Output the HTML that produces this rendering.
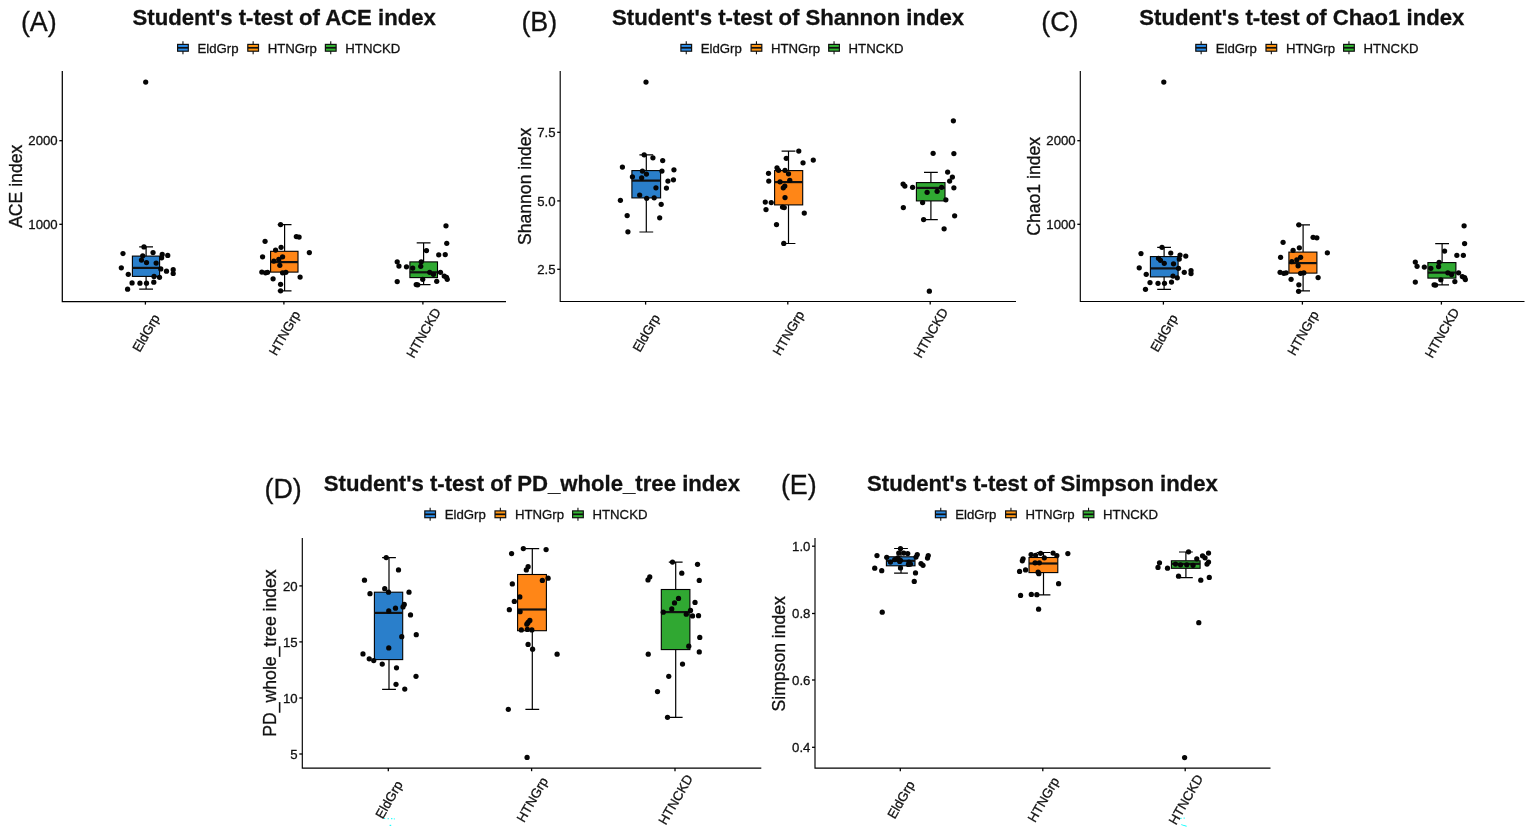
<!DOCTYPE html>
<html lang="en">
<head>
<meta charset="utf-8">
<title>Alpha diversity indices - Student's t-test</title>
<style>
html,body{margin:0;padding:0;background:#fff;}
body{width:1535px;height:834px;overflow:hidden;}
svg{display:block;font-family:"Liberation Sans",sans-serif;fill:#111;}
text{stroke:#111;stroke-width:0.3px;}
</style>
</head>
<body>
<svg width="1535" height="834" viewBox="0 0 1535 834">
<rect width="1535" height="834" fill="#fff"/>
<!-- panel A -->
<text x="20.9" y="31.2" font-size="26.9">(A)</text>
<text x="132.5" y="25" font-size="22.15" font-weight="bold" stroke-width="0.15">Student's t-test of ACE index</text>
<line x1="182.95" y1="41.3" x2="182.95" y2="54.3" stroke="#111" stroke-width="1.1"/>
<rect x="177.6" y="44.4" width="10.7" height="6.8" fill="#2b8be6" stroke="#111" stroke-width="1.2"/>
<line x1="177.6" y1="47.8" x2="188.3" y2="47.8" stroke="#111" stroke-width="1.7"/>
<text x="197.5" y="52.5" font-size="13.2">EldGrp</text>
<line x1="253.15" y1="41.3" x2="253.15" y2="54.3" stroke="#111" stroke-width="1.1"/>
<rect x="247.8" y="44.4" width="10.7" height="6.8" fill="#ff9612" stroke="#111" stroke-width="1.2"/>
<line x1="247.8" y1="47.8" x2="258.5" y2="47.8" stroke="#111" stroke-width="1.7"/>
<text x="267.7" y="52.5" font-size="13.2">HTNGrp</text>
<line x1="330.75" y1="41.3" x2="330.75" y2="54.3" stroke="#111" stroke-width="1.1"/>
<rect x="325.4" y="44.4" width="10.7" height="6.8" fill="#33b533" stroke="#111" stroke-width="1.2"/>
<line x1="325.4" y1="47.8" x2="336.1" y2="47.8" stroke="#111" stroke-width="1.7"/>
<text x="345.3" y="52.5" font-size="13.2">HTNCKD</text>
<path d="M62.3 71V301.5H506" fill="none" stroke="#000" stroke-width="1.25"/>
<text transform="translate(22 186.3) rotate(-90)" text-anchor="middle" font-size="17.6">ACE index</text>
<line x1="59.3" y1="140.7" x2="62.3" y2="140.7" stroke="#000" stroke-width="1.3"/>
<text x="57.7" y="145.4" text-anchor="end" font-size="13.2">2000</text>
<line x1="59.3" y1="224.3" x2="62.3" y2="224.3" stroke="#000" stroke-width="1.3"/>
<text x="57.7" y="229" text-anchor="end" font-size="13.2">1000</text>
<line x1="145.4" y1="301.5" x2="145.4" y2="304.6" stroke="#000" stroke-width="1.3"/>
<text transform="translate(146 333) rotate(-60)" text-anchor="middle" dy="4.6" font-size="13.2">EldGrp</text>
<line x1="283.9" y1="301.5" x2="283.9" y2="304.6" stroke="#000" stroke-width="1.3"/>
<text transform="translate(284.5 333) rotate(-60)" text-anchor="middle" dy="4.6" font-size="13.2">HTNGrp</text>
<line x1="422.9" y1="301.5" x2="422.9" y2="304.6" stroke="#000" stroke-width="1.3"/>
<text transform="translate(423.5 333) rotate(-60)" text-anchor="middle" dy="4.6" font-size="13.2">HTNCKD</text>
<g transform="translate(0.4 0.3)">
<path d="M145.7 246.6V255.8M145.7 276.1V288.8M138.8 246.6H152.6M138.8 288.8H152.6" fill="none" stroke="#000" stroke-width="1.2"/>
<rect x="132" y="255.8" width="27.2" height="20.3" fill="#2a7fcb" stroke="#000" stroke-width="1.1"/>
<line x1="132" y1="267.6" x2="159.2" y2="267.6" stroke="#111" stroke-width="2.2"/>
<path d="M284.2 224.3V251M284.2 271.8V290.6M277.3 224.3H291.1M277.3 290.6H291.1" fill="none" stroke="#000" stroke-width="1.2"/>
<rect x="270.2" y="251" width="27.4" height="20.8" fill="#ff8617" stroke="#000" stroke-width="1.1"/>
<line x1="270.2" y1="261.8" x2="297.6" y2="261.8" stroke="#111" stroke-width="2.2"/>
<path d="M423.2 242.6V261.6M423.2 277.3V284.3M416.3 242.6H430.1M416.3 284.3H430.1" fill="none" stroke="#000" stroke-width="1.2"/>
<rect x="409.5" y="261.6" width="27.6" height="15.7" fill="#30a832" stroke="#000" stroke-width="1.1"/>
<line x1="409.5" y1="272" x2="437.1" y2="272" stroke="#111" stroke-width="2.2"/>
<g fill="#050505"><circle cx="145.3" cy="81.8" r="2.62"/><circle cx="143.59" cy="246.59" r="2.62"/><circle cx="122.59" cy="253.22" r="2.62"/><circle cx="152.65" cy="252.21" r="2.62"/><circle cx="161.81" cy="254.14" r="2.62"/><circle cx="167.35" cy="255.15" r="2.62"/><circle cx="161.22" cy="257.5" r="2.62"/><circle cx="142.33" cy="255.57" r="2.62"/><circle cx="141.07" cy="259.77" r="2.62"/><circle cx="146.1" cy="262.29" r="2.62"/><circle cx="155.76" cy="262.71" r="2.62"/><circle cx="120.92" cy="267.49" r="2.62"/><circle cx="160.38" cy="268.59" r="2.62"/><circle cx="166.09" cy="270.94" r="2.62"/><circle cx="172.8" cy="269.42" r="2.62"/><circle cx="172.8" cy="273.2" r="2.62"/><circle cx="127.88" cy="274.04" r="2.62"/><circle cx="153.66" cy="276.14" r="2.62"/><circle cx="159.12" cy="276.98" r="2.62"/><circle cx="131.66" cy="282.69" r="2.62"/><circle cx="139.55" cy="282.86" r="2.62"/><circle cx="146.1" cy="282.86" r="2.62"/><circle cx="153.41" cy="281.85" r="2.62"/><circle cx="127.21" cy="288.9" r="2.62"/><circle cx="280.18" cy="224.27" r="2.62"/><circle cx="295.94" cy="236.27" r="2.62"/><circle cx="298.69" cy="236.77" r="2.62"/><circle cx="264.67" cy="241.03" r="2.62"/><circle cx="280.68" cy="247.03" r="2.62"/><circle cx="275.18" cy="249.78" r="2.62"/><circle cx="308.95" cy="252.28" r="2.62"/><circle cx="262.17" cy="256.54" r="2.62"/><circle cx="282.18" cy="256.54" r="2.62"/><circle cx="278.43" cy="259.04" r="2.62"/><circle cx="273.43" cy="260.79" r="2.62"/><circle cx="279.43" cy="265.04" r="2.62"/><circle cx="261.42" cy="271.8" r="2.62"/><circle cx="265.17" cy="272.55" r="2.62"/><circle cx="267.17" cy="272.05" r="2.62"/><circle cx="282.18" cy="272.55" r="2.62"/><circle cx="285.44" cy="272.05" r="2.62"/><circle cx="299.7" cy="276.8" r="2.62"/><circle cx="272.68" cy="278.55" r="2.62"/><circle cx="280.18" cy="284.05" r="2.62"/><circle cx="280.18" cy="290.56" r="2.62"/><circle cx="445.59" cy="225.52" r="2.62"/><circle cx="446.35" cy="243.03" r="2.62"/><circle cx="426.08" cy="250.28" r="2.62"/><circle cx="438.34" cy="254.54" r="2.62"/><circle cx="444.84" cy="254.29" r="2.62"/><circle cx="396.81" cy="261.54" r="2.62"/><circle cx="398.56" cy="265.79" r="2.62"/><circle cx="406.07" cy="266.54" r="2.62"/><circle cx="412.32" cy="267.79" r="2.62"/><circle cx="420.83" cy="261.54" r="2.62"/><circle cx="420.33" cy="266.04" r="2.62"/><circle cx="429.33" cy="272.05" r="2.62"/><circle cx="433.09" cy="274.05" r="2.62"/><circle cx="440.09" cy="272.05" r="2.62"/><circle cx="443.84" cy="275.8" r="2.62"/><circle cx="446.85" cy="279.05" r="2.62"/><circle cx="422.33" cy="279.05" r="2.62"/><circle cx="436.34" cy="281.05" r="2.62"/><circle cx="396.81" cy="281.3" r="2.62"/><circle cx="415.83" cy="284.3" r="2.62"/><circle cx="417.33" cy="284.56" r="2.62"/><circle cx="446.1" cy="277.05" r="2.62"/></g>
</g>
<!-- panel B -->
<text x="521.4" y="31.2" font-size="26.9">(B)</text>
<text x="612" y="25" font-size="22.15" font-weight="bold" stroke-width="0.15">Student's t-test of Shannon index</text>
<line x1="686.25" y1="41.3" x2="686.25" y2="54.3" stroke="#111" stroke-width="1.1"/>
<rect x="680.9" y="44.4" width="10.7" height="6.8" fill="#2b8be6" stroke="#111" stroke-width="1.2"/>
<line x1="680.9" y1="47.8" x2="691.6" y2="47.8" stroke="#111" stroke-width="1.7"/>
<text x="700.8" y="52.5" font-size="13.2">EldGrp</text>
<line x1="756.45" y1="41.3" x2="756.45" y2="54.3" stroke="#111" stroke-width="1.1"/>
<rect x="751.1" y="44.4" width="10.7" height="6.8" fill="#ff9612" stroke="#111" stroke-width="1.2"/>
<line x1="751.1" y1="47.8" x2="761.8" y2="47.8" stroke="#111" stroke-width="1.7"/>
<text x="771" y="52.5" font-size="13.2">HTNGrp</text>
<line x1="834.05" y1="41.3" x2="834.05" y2="54.3" stroke="#111" stroke-width="1.1"/>
<rect x="828.7" y="44.4" width="10.7" height="6.8" fill="#33b533" stroke="#111" stroke-width="1.2"/>
<line x1="828.7" y1="47.8" x2="839.4" y2="47.8" stroke="#111" stroke-width="1.7"/>
<text x="848.6" y="52.5" font-size="13.2">HTNCKD</text>
<path d="M560.2 71V301.5H1016" fill="none" stroke="#000" stroke-width="1.15"/>
<text transform="translate(530.5 186.3) rotate(-90)" text-anchor="middle" font-size="17.6">Shannon index</text>
<line x1="557.2" y1="132.3" x2="560.2" y2="132.3" stroke="#000" stroke-width="1.3"/>
<text x="555.6" y="137" text-anchor="end" font-size="13.2">7.5</text>
<line x1="557.2" y1="200.9" x2="560.2" y2="200.9" stroke="#000" stroke-width="1.3"/>
<text x="555.6" y="205.6" text-anchor="end" font-size="13.2">5.0</text>
<line x1="557.2" y1="269.3" x2="560.2" y2="269.3" stroke="#000" stroke-width="1.3"/>
<text x="555.6" y="274" text-anchor="end" font-size="13.2">2.5</text>
<line x1="645.6" y1="301.5" x2="645.6" y2="304.6" stroke="#000" stroke-width="1.3"/>
<text transform="translate(646.2 333) rotate(-60)" text-anchor="middle" dy="4.6" font-size="13.2">EldGrp</text>
<line x1="787.8" y1="301.5" x2="787.8" y2="304.6" stroke="#000" stroke-width="1.3"/>
<text transform="translate(788.4 333) rotate(-60)" text-anchor="middle" dy="4.6" font-size="13.2">HTNGrp</text>
<line x1="930.2" y1="301.5" x2="930.2" y2="304.6" stroke="#000" stroke-width="1.3"/>
<text transform="translate(930.8 333) rotate(-60)" text-anchor="middle" dy="4.6" font-size="13.2">HTNCKD</text>
<g transform="translate(0.4 0.3)">
<path d="M645.9 154.5V170.3M645.9 197.6V231.7M639 154.5H652.8M639 231.7H652.8" fill="none" stroke="#000" stroke-width="1.2"/>
<rect x="631.5" y="170.3" width="28.7" height="27.3" fill="#2a7fcb" stroke="#000" stroke-width="1.1"/>
<line x1="631.5" y1="180.3" x2="660.2" y2="180.3" stroke="#111" stroke-width="2.2"/>
<path d="M788.1 150.8V170.3M788.1 204.6V243.2M781.2 150.8H795M781.2 243.2H795" fill="none" stroke="#000" stroke-width="1.2"/>
<rect x="774.2" y="170.3" width="28.1" height="34.3" fill="#ff8617" stroke="#000" stroke-width="1.1"/>
<line x1="774.2" y1="181.8" x2="802.3" y2="181.8" stroke="#111" stroke-width="2.2"/>
<path d="M930.5 172V182.3M930.5 200.6V219.4M923.6 172H937.4M923.6 219.4H937.4" fill="none" stroke="#000" stroke-width="1.2"/>
<rect x="916" y="182.3" width="28.6" height="18.3" fill="#30a832" stroke="#000" stroke-width="1.1"/>
<line x1="916" y1="187.6" x2="944.6" y2="187.6" stroke="#111" stroke-width="2.2"/>
<g fill="#050505"><circle cx="645.6" cy="81.8" r="2.62"/><circle cx="622.01" cy="166.78" r="2.62"/><circle cx="620.01" cy="200.05" r="2.62"/><circle cx="626.77" cy="215.31" r="2.62"/><circle cx="627.52" cy="231.57" r="2.62"/><circle cx="643.78" cy="154.52" r="2.62"/><circle cx="652.53" cy="157.52" r="2.62"/><circle cx="662.29" cy="160.28" r="2.62"/><circle cx="673.55" cy="169.53" r="2.62"/><circle cx="673.05" cy="179.54" r="2.62"/><circle cx="667.54" cy="180.79" r="2.62"/><circle cx="666.04" cy="187.79" r="2.62"/><circle cx="661.54" cy="170.78" r="2.62"/><circle cx="642.03" cy="170.78" r="2.62"/><circle cx="646.03" cy="173.79" r="2.62"/><circle cx="632.02" cy="176.54" r="2.62"/><circle cx="641.28" cy="177.54" r="2.62"/><circle cx="655.54" cy="187.54" r="2.62"/><circle cx="639.28" cy="194.8" r="2.62"/><circle cx="646.28" cy="198.05" r="2.62"/><circle cx="653.79" cy="197.55" r="2.62"/><circle cx="660.79" cy="204.05" r="2.62"/><circle cx="659.29" cy="217.56" r="2.62"/><circle cx="798.38" cy="150.77" r="2.62"/><circle cx="812.89" cy="159.78" r="2.62"/><circle cx="785.87" cy="158.02" r="2.62"/><circle cx="802.63" cy="162.53" r="2.62"/><circle cx="776.61" cy="167.53" r="2.62"/><circle cx="778.12" cy="170.03" r="2.62"/><circle cx="784.62" cy="170.03" r="2.62"/><circle cx="768.11" cy="173.03" r="2.62"/><circle cx="788.12" cy="173.53" r="2.62"/><circle cx="768.36" cy="180.79" r="2.62"/><circle cx="779.62" cy="181.54" r="2.62"/><circle cx="789.37" cy="180.04" r="2.62"/><circle cx="784.37" cy="185.79" r="2.62"/><circle cx="782.87" cy="187.54" r="2.62"/><circle cx="784.62" cy="197.3" r="2.62"/><circle cx="764.86" cy="201.8" r="2.62"/><circle cx="770.86" cy="202.3" r="2.62"/><circle cx="782.12" cy="206.81" r="2.62"/><circle cx="783.87" cy="207.31" r="2.62"/><circle cx="765.61" cy="209.31" r="2.62"/><circle cx="803.88" cy="212.81" r="2.62"/><circle cx="776.11" cy="224.32" r="2.62"/><circle cx="783.37" cy="243.08" r="2.62"/><circle cx="952.98" cy="120.5" r="2.62"/><circle cx="932.72" cy="153.02" r="2.62"/><circle cx="953.48" cy="153.27" r="2.62"/><circle cx="947.23" cy="171.78" r="2.62"/><circle cx="951.98" cy="176.79" r="2.62"/><circle cx="949.23" cy="180.79" r="2.62"/><circle cx="902.7" cy="183.79" r="2.62"/><circle cx="904.45" cy="185.79" r="2.62"/><circle cx="912.2" cy="187.04" r="2.62"/><circle cx="941.22" cy="187.04" r="2.62"/><circle cx="953.48" cy="187.54" r="2.62"/><circle cx="926.71" cy="192.05" r="2.62"/><circle cx="936.72" cy="191.05" r="2.62"/><circle cx="945.47" cy="199.55" r="2.62"/><circle cx="922.21" cy="202.3" r="2.62"/><circle cx="902.95" cy="207.31" r="2.62"/><circle cx="954.23" cy="215.56" r="2.62"/><circle cx="923.21" cy="219.31" r="2.62"/><circle cx="943.72" cy="228.57" r="2.62"/><circle cx="928.96" cy="290.86" r="2.62"/></g>
</g>
<!-- panel C -->
<text x="1041.2" y="31.2" font-size="26.9">(C)</text>
<text x="1139.3" y="25" font-size="22.15" font-weight="bold" stroke-width="0.15">Student's t-test of Chao1 index</text>
<line x1="1201.15" y1="41.3" x2="1201.15" y2="54.3" stroke="#111" stroke-width="1.1"/>
<rect x="1195.8" y="44.4" width="10.7" height="6.8" fill="#2b8be6" stroke="#111" stroke-width="1.2"/>
<line x1="1195.8" y1="47.8" x2="1206.5" y2="47.8" stroke="#111" stroke-width="1.7"/>
<text x="1215.7" y="52.5" font-size="13.2">EldGrp</text>
<line x1="1271.35" y1="41.3" x2="1271.35" y2="54.3" stroke="#111" stroke-width="1.1"/>
<rect x="1266" y="44.4" width="10.7" height="6.8" fill="#ff9612" stroke="#111" stroke-width="1.2"/>
<line x1="1266" y1="47.8" x2="1276.7" y2="47.8" stroke="#111" stroke-width="1.7"/>
<text x="1285.9" y="52.5" font-size="13.2">HTNGrp</text>
<line x1="1348.95" y1="41.3" x2="1348.95" y2="54.3" stroke="#111" stroke-width="1.1"/>
<rect x="1343.6" y="44.4" width="10.7" height="6.8" fill="#33b533" stroke="#111" stroke-width="1.2"/>
<line x1="1343.6" y1="47.8" x2="1354.3" y2="47.8" stroke="#111" stroke-width="1.7"/>
<text x="1363.5" y="52.5" font-size="13.2">HTNCKD</text>
<path d="M1080.3 71V301.5H1524.5" fill="none" stroke="#000" stroke-width="1.15"/>
<text transform="translate(1040 186.3) rotate(-90)" text-anchor="middle" font-size="17.6">Chao1 index</text>
<line x1="1077.3" y1="140.7" x2="1080.3" y2="140.7" stroke="#000" stroke-width="1.3"/>
<text x="1075.7" y="145.4" text-anchor="end" font-size="13.2">2000</text>
<line x1="1077.3" y1="224.3" x2="1080.3" y2="224.3" stroke="#000" stroke-width="1.3"/>
<text x="1075.7" y="229" text-anchor="end" font-size="13.2">1000</text>
<line x1="1163.4" y1="301.5" x2="1163.4" y2="304.6" stroke="#000" stroke-width="1.3"/>
<text transform="translate(1164 333) rotate(-60)" text-anchor="middle" dy="4.6" font-size="13.2">EldGrp</text>
<line x1="1302.4" y1="301.5" x2="1302.4" y2="304.6" stroke="#000" stroke-width="1.3"/>
<text transform="translate(1303 333) rotate(-60)" text-anchor="middle" dy="4.6" font-size="13.2">HTNGrp</text>
<line x1="1441.4" y1="301.5" x2="1441.4" y2="304.6" stroke="#000" stroke-width="1.3"/>
<text transform="translate(1442 333) rotate(-60)" text-anchor="middle" dy="4.6" font-size="13.2">HTNCKD</text>
<g transform="translate(0.4 0.3)">
<path d="M1163.7 247V256.3M1163.7 276.6V289.1M1156.8 247H1170.6M1156.8 289.1H1170.6" fill="none" stroke="#000" stroke-width="1.2"/>
<rect x="1150" y="256.3" width="27.7" height="20.3" fill="#2a7fcb" stroke="#000" stroke-width="1.1"/>
<line x1="1150" y1="268.1" x2="1177.7" y2="268.1" stroke="#111" stroke-width="2.2"/>
<path d="M1302.7 224.5V251.8M1302.7 272.8V290.6M1295.8 224.5H1309.6M1295.8 290.6H1309.6" fill="none" stroke="#000" stroke-width="1.2"/>
<rect x="1288.5" y="251.8" width="28" height="21" fill="#ff8617" stroke="#000" stroke-width="1.1"/>
<line x1="1288.5" y1="262.8" x2="1316.5" y2="262.8" stroke="#111" stroke-width="2.2"/>
<path d="M1441.7 243.3V262.3M1441.7 277.8V284.6M1434.8 243.3H1448.6M1434.8 284.6H1448.6" fill="none" stroke="#000" stroke-width="1.2"/>
<rect x="1427.5" y="262.3" width="28" height="15.5" fill="#30a832" stroke="#000" stroke-width="1.1"/>
<line x1="1427.5" y1="272.3" x2="1455.5" y2="272.3" stroke="#111" stroke-width="2.2"/>
<g fill="#050505"><circle cx="1163.4" cy="81.8" r="2.62"/><circle cx="1140.59" cy="253.28" r="2.62"/><circle cx="1138.84" cy="267.54" r="2.62"/><circle cx="1145.84" cy="274.05" r="2.62"/><circle cx="1145.09" cy="289.06" r="2.62"/><circle cx="1149.6" cy="282.3" r="2.62"/><circle cx="1157.6" cy="283.05" r="2.62"/><circle cx="1164.11" cy="283.05" r="2.62"/><circle cx="1171.11" cy="281.8" r="2.62"/><circle cx="1161.61" cy="247.03" r="2.62"/><circle cx="1170.36" cy="252.78" r="2.62"/><circle cx="1179.62" cy="254.79" r="2.62"/><circle cx="1185.37" cy="255.79" r="2.62"/><circle cx="1178.87" cy="258.79" r="2.62"/><circle cx="1160.1" cy="260.04" r="2.62"/><circle cx="1163.86" cy="263.04" r="2.62"/><circle cx="1173.11" cy="263.54" r="2.62"/><circle cx="1183.87" cy="272.05" r="2.62"/><circle cx="1190.62" cy="270.3" r="2.62"/><circle cx="1190.62" cy="273.3" r="2.62"/><circle cx="1176.87" cy="277.55" r="2.62"/><circle cx="1172.61" cy="275.8" r="2.62"/><circle cx="1178.12" cy="268.04" r="2.62"/><circle cx="1158.1" cy="258.04" r="2.62"/><circle cx="1298.44" cy="224.52" r="2.62"/><circle cx="1312.7" cy="237.02" r="2.62"/><circle cx="1316.46" cy="237.52" r="2.62"/><circle cx="1282.68" cy="242.03" r="2.62"/><circle cx="1298.94" cy="247.53" r="2.62"/><circle cx="1292.69" cy="250.03" r="2.62"/><circle cx="1326.96" cy="252.53" r="2.62"/><circle cx="1280.18" cy="257.04" r="2.62"/><circle cx="1300.2" cy="257.04" r="2.62"/><circle cx="1296.44" cy="259.54" r="2.62"/><circle cx="1291.44" cy="261.29" r="2.62"/><circle cx="1297.69" cy="265.54" r="2.62"/><circle cx="1279.68" cy="272.05" r="2.62"/><circle cx="1283.43" cy="273.05" r="2.62"/><circle cx="1285.69" cy="272.55" r="2.62"/><circle cx="1300.2" cy="273.05" r="2.62"/><circle cx="1303.45" cy="272.55" r="2.62"/><circle cx="1317.71" cy="277.3" r="2.62"/><circle cx="1290.69" cy="279.05" r="2.62"/><circle cx="1298.44" cy="284.56" r="2.62"/><circle cx="1298.19" cy="291.06" r="2.62"/><circle cx="1463.7" cy="225.52" r="2.62"/><circle cx="1464.2" cy="243.28" r="2.62"/><circle cx="1444.19" cy="250.78" r="2.62"/><circle cx="1456.45" cy="255.04" r="2.62"/><circle cx="1462.95" cy="255.04" r="2.62"/><circle cx="1414.92" cy="261.79" r="2.62"/><circle cx="1416.67" cy="266.04" r="2.62"/><circle cx="1423.93" cy="266.79" r="2.62"/><circle cx="1430.43" cy="268.04" r="2.62"/><circle cx="1438.69" cy="262.04" r="2.62"/><circle cx="1438.19" cy="266.29" r="2.62"/><circle cx="1447.44" cy="272.55" r="2.62"/><circle cx="1451.2" cy="274.3" r="2.62"/><circle cx="1458.2" cy="272.55" r="2.62"/><circle cx="1461.95" cy="276.3" r="2.62"/><circle cx="1464.95" cy="279.3" r="2.62"/><circle cx="1440.44" cy="279.55" r="2.62"/><circle cx="1454.45" cy="281.3" r="2.62"/><circle cx="1414.92" cy="281.8" r="2.62"/><circle cx="1433.68" cy="284.56" r="2.62"/><circle cx="1435.19" cy="284.81" r="2.62"/><circle cx="1464.2" cy="277.3" r="2.62"/></g>
</g>
<!-- panel D -->
<text x="264.5" y="497.6" font-size="26.9">(D)</text>
<text x="323.8" y="491.3" font-size="22.15" font-weight="bold" stroke-width="0.15">Student's t-test of PD_whole_tree index</text>
<line x1="430.15" y1="507.8" x2="430.15" y2="520.8" stroke="#111" stroke-width="1.1"/>
<rect x="424.8" y="510.9" width="10.7" height="6.8" fill="#2b8be6" stroke="#111" stroke-width="1.2"/>
<line x1="424.8" y1="514.3" x2="435.5" y2="514.3" stroke="#111" stroke-width="1.7"/>
<text x="444.7" y="519" font-size="13.2">EldGrp</text>
<line x1="500.35" y1="507.8" x2="500.35" y2="520.8" stroke="#111" stroke-width="1.1"/>
<rect x="495" y="510.9" width="10.7" height="6.8" fill="#ff9612" stroke="#111" stroke-width="1.2"/>
<line x1="495" y1="514.3" x2="505.7" y2="514.3" stroke="#111" stroke-width="1.7"/>
<text x="514.9" y="519" font-size="13.2">HTNGrp</text>
<line x1="577.95" y1="507.8" x2="577.95" y2="520.8" stroke="#111" stroke-width="1.1"/>
<rect x="572.6" y="510.9" width="10.7" height="6.8" fill="#33b533" stroke="#111" stroke-width="1.2"/>
<line x1="572.6" y1="514.3" x2="583.3" y2="514.3" stroke="#111" stroke-width="1.7"/>
<text x="592.5" y="519" font-size="13.2">HTNCKD</text>
<path d="M302.3 538V768.1H761.3" fill="none" stroke="#000" stroke-width="1.15"/>
<text transform="translate(275.7 653) rotate(-90)" text-anchor="middle" font-size="17.6">PD_whole_tree index</text>
<line x1="299.3" y1="585.9" x2="302.3" y2="585.9" stroke="#000" stroke-width="1.3"/>
<text x="297.7" y="590.6" text-anchor="end" font-size="13.2">20</text>
<line x1="299.3" y1="641.9" x2="302.3" y2="641.9" stroke="#000" stroke-width="1.3"/>
<text x="297.7" y="646.6" text-anchor="end" font-size="13.2">15</text>
<line x1="299.3" y1="698" x2="302.3" y2="698" stroke="#000" stroke-width="1.3"/>
<text x="297.7" y="702.7" text-anchor="end" font-size="13.2">10</text>
<line x1="299.3" y1="754" x2="302.3" y2="754" stroke="#000" stroke-width="1.3"/>
<text x="297.7" y="758.7" text-anchor="end" font-size="13.2">5</text>
<line x1="388.3" y1="768.1" x2="388.3" y2="771.2" stroke="#000" stroke-width="1.3"/>
<text transform="translate(388.9 799.6) rotate(-60)" text-anchor="middle" dy="4.6" font-size="13.2">EldGrp</text>
<line x1="531.6" y1="768.1" x2="531.6" y2="771.2" stroke="#000" stroke-width="1.3"/>
<text transform="translate(532.2 799.6) rotate(-60)" text-anchor="middle" dy="4.6" font-size="13.2">HTNGrp</text>
<line x1="675" y1="768.1" x2="675" y2="771.2" stroke="#000" stroke-width="1.3"/>
<text transform="translate(675.6 799.6) rotate(-60)" text-anchor="middle" dy="4.6" font-size="13.2">HTNCKD</text>
<g transform="translate(0.4 0.3)">
<path d="M388.6 557.4V591.9M388.6 659.3V689.1M381.7 557.4H395.5M381.7 689.1H395.5" fill="none" stroke="#000" stroke-width="1.2"/>
<rect x="374" y="591.9" width="28.3" height="67.4" fill="#2a7fcb" stroke="#000" stroke-width="1.1"/>
<line x1="374" y1="612.6" x2="402.3" y2="612.6" stroke="#111" stroke-width="2.2"/>
<path d="M531.9 548.4V574.2M531.9 630.4V709.1M525 548.4H538.8M525 709.1H538.8" fill="none" stroke="#000" stroke-width="1.2"/>
<rect x="517.2" y="574.2" width="28.8" height="56.2" fill="#ff8617" stroke="#000" stroke-width="1.1"/>
<line x1="517.2" y1="609.2" x2="546" y2="609.2" stroke="#111" stroke-width="2.2"/>
<path d="M675.3 561.9V589.2M675.3 649.3V717.1M668.4 561.9H682.2M668.4 717.1H682.2" fill="none" stroke="#000" stroke-width="1.2"/>
<rect x="660.9" y="589.2" width="28.6" height="60.1" fill="#30a832" stroke="#000" stroke-width="1.1"/>
<line x1="660.9" y1="611.8" x2="689.5" y2="611.8" stroke="#111" stroke-width="2.2"/>
<g fill="#050505"><circle cx="385.84" cy="557.32" r="2.62"/><circle cx="398.1" cy="569.58" r="2.62"/><circle cx="364.08" cy="579.83" r="2.62"/><circle cx="384.34" cy="588.34" r="2.62"/><circle cx="388.1" cy="591.84" r="2.62"/><circle cx="369.58" cy="593.34" r="2.62"/><circle cx="408.61" cy="591.84" r="2.62"/><circle cx="403.86" cy="604.1" r="2.62"/><circle cx="402.61" cy="606.6" r="2.62"/><circle cx="395.1" cy="607.85" r="2.62"/><circle cx="388.35" cy="610.6" r="2.62"/><circle cx="410.11" cy="614.61" r="2.62"/><circle cx="415.86" cy="634.37" r="2.62"/><circle cx="401.36" cy="636.37" r="2.62"/><circle cx="388.35" cy="647.63" r="2.62"/><circle cx="362.58" cy="653.63" r="2.62"/><circle cx="368.83" cy="658.52" r="2.62"/><circle cx="373.34" cy="660.27" r="2.62"/><circle cx="381.84" cy="663.78" r="2.62"/><circle cx="396.1" cy="667.53" r="2.62"/><circle cx="415.61" cy="676.03" r="2.62"/><circle cx="395.6" cy="684.04" r="2.62"/><circle cx="404.36" cy="688.79" r="2.62"/><circle cx="522.93" cy="548.31" r="2.62"/><circle cx="545.7" cy="549.31" r="2.62"/><circle cx="511.18" cy="553.32" r="2.62"/><circle cx="527.69" cy="566.33" r="2.62"/><circle cx="525.94" cy="569.58" r="2.62"/><circle cx="547.7" cy="577.83" r="2.62"/><circle cx="541.95" cy="580.08" r="2.62"/><circle cx="511.93" cy="583.59" r="2.62"/><circle cx="519.43" cy="596.6" r="2.62"/><circle cx="513.93" cy="601.1" r="2.62"/><circle cx="508.93" cy="609.35" r="2.62"/><circle cx="519.68" cy="611.36" r="2.62"/><circle cx="529.44" cy="620.11" r="2.62"/><circle cx="527.69" cy="622.11" r="2.62"/><circle cx="526.44" cy="623.86" r="2.62"/><circle cx="520.93" cy="629.62" r="2.62"/><circle cx="526.94" cy="629.12" r="2.62"/><circle cx="531.44" cy="629.62" r="2.62"/><circle cx="527.69" cy="644.13" r="2.62"/><circle cx="532.19" cy="648.88" r="2.62"/><circle cx="556.71" cy="653.88" r="2.62"/><circle cx="507.92" cy="709.05" r="2.62"/><circle cx="526.69" cy="757.09" r="2.62"/><circle cx="672.11" cy="561.82" r="2.62"/><circle cx="697.13" cy="564.07" r="2.62"/><circle cx="681.37" cy="572.83" r="2.62"/><circle cx="649.35" cy="576.58" r="2.62"/><circle cx="647.6" cy="579.58" r="2.62"/><circle cx="698.88" cy="580.08" r="2.62"/><circle cx="678.12" cy="598.1" r="2.62"/><circle cx="674.11" cy="602.6" r="2.62"/><circle cx="694.63" cy="602.1" r="2.62"/><circle cx="671.36" cy="608.6" r="2.62"/><circle cx="690.12" cy="610.1" r="2.62"/><circle cx="662.86" cy="611.86" r="2.62"/><circle cx="685.87" cy="613.86" r="2.62"/><circle cx="692.13" cy="615.61" r="2.62"/><circle cx="698.13" cy="615.36" r="2.62"/><circle cx="699.38" cy="637.12" r="2.62"/><circle cx="688.37" cy="645.88" r="2.62"/><circle cx="698.88" cy="651.63" r="2.62"/><circle cx="647.85" cy="653.88" r="2.62"/><circle cx="682.12" cy="663.78" r="2.62"/><circle cx="668.36" cy="676.03" r="2.62"/><circle cx="657.1" cy="691.29" r="2.62"/><circle cx="667.11" cy="717.06" r="2.62"/></g>
</g>
<!-- panel E -->
<text x="780.9" y="494.2" font-size="26.9">(E)</text>
<text x="867" y="491.3" font-size="22.15" font-weight="bold" stroke-width="0.15">Student's t-test of Simpson index</text>
<line x1="940.75" y1="507.8" x2="940.75" y2="520.8" stroke="#111" stroke-width="1.1"/>
<rect x="935.4" y="510.9" width="10.7" height="6.8" fill="#2b8be6" stroke="#111" stroke-width="1.2"/>
<line x1="935.4" y1="514.3" x2="946.1" y2="514.3" stroke="#111" stroke-width="1.7"/>
<text x="955.3" y="519" font-size="13.2">EldGrp</text>
<line x1="1010.95" y1="507.8" x2="1010.95" y2="520.8" stroke="#111" stroke-width="1.1"/>
<rect x="1005.6" y="510.9" width="10.7" height="6.8" fill="#ff9612" stroke="#111" stroke-width="1.2"/>
<line x1="1005.6" y1="514.3" x2="1016.3" y2="514.3" stroke="#111" stroke-width="1.7"/>
<text x="1025.5" y="519" font-size="13.2">HTNGrp</text>
<line x1="1088.55" y1="507.8" x2="1088.55" y2="520.8" stroke="#111" stroke-width="1.1"/>
<rect x="1083.2" y="510.9" width="10.7" height="6.8" fill="#33b533" stroke="#111" stroke-width="1.2"/>
<line x1="1083.2" y1="514.3" x2="1093.9" y2="514.3" stroke="#111" stroke-width="1.7"/>
<text x="1103.1" y="519" font-size="13.2">HTNCKD</text>
<path d="M815 538V768.1H1270.5" fill="none" stroke="#000" stroke-width="1.15"/>
<text transform="translate(785 653.8) rotate(-90)" text-anchor="middle" font-size="17.6">Simpson index</text>
<line x1="812" y1="546.2" x2="815" y2="546.2" stroke="#000" stroke-width="1.3"/>
<text x="810.4" y="550.9" text-anchor="end" font-size="13.2">1.0</text>
<line x1="812" y1="613.5" x2="815" y2="613.5" stroke="#000" stroke-width="1.3"/>
<text x="810.4" y="618.2" text-anchor="end" font-size="13.2">0.8</text>
<line x1="812" y1="680" x2="815" y2="680" stroke="#000" stroke-width="1.3"/>
<text x="810.4" y="684.7" text-anchor="end" font-size="13.2">0.6</text>
<line x1="812" y1="747.3" x2="815" y2="747.3" stroke="#000" stroke-width="1.3"/>
<text x="810.4" y="752" text-anchor="end" font-size="13.2">0.4</text>
<line x1="900.3" y1="768.1" x2="900.3" y2="771.2" stroke="#000" stroke-width="1.3"/>
<text transform="translate(900.9 799.6) rotate(-60)" text-anchor="middle" dy="4.6" font-size="13.2">EldGrp</text>
<line x1="1042.8" y1="768.1" x2="1042.8" y2="771.2" stroke="#000" stroke-width="1.3"/>
<text transform="translate(1043.4 799.6) rotate(-60)" text-anchor="middle" dy="4.6" font-size="13.2">HTNGrp</text>
<line x1="1185.2" y1="768.1" x2="1185.2" y2="771.2" stroke="#000" stroke-width="1.3"/>
<text transform="translate(1185.8 799.6) rotate(-60)" text-anchor="middle" dy="4.6" font-size="13.2">HTNCKD</text>
<g transform="translate(0.4 0.3)">
<path d="M900.6 548.2V556.5M900.6 565.5V572.8M893.7 548.2H907.5M893.7 572.8H907.5" fill="none" stroke="#000" stroke-width="1.2"/>
<rect x="886" y="556.5" width="28.6" height="9" fill="#2a7fcb" stroke="#000" stroke-width="1.1"/>
<line x1="886" y1="560.5" x2="914.6" y2="560.5" stroke="#111" stroke-width="2.2"/>
<path d="M1043.1 552.2V557.2M1043.1 572.3V594.6M1036.2 552.2H1050M1036.2 594.6H1050" fill="none" stroke="#000" stroke-width="1.2"/>
<rect x="1028.6" y="557.2" width="28.8" height="15.1" fill="#ff8617" stroke="#000" stroke-width="1.1"/>
<line x1="1028.6" y1="563.2" x2="1057.4" y2="563.2" stroke="#111" stroke-width="2.2"/>
<path d="M1185.5 551.7V560.5M1185.5 568V577.3M1178.6 551.7H1192.4M1178.6 577.3H1192.4" fill="none" stroke="#000" stroke-width="1.2"/>
<rect x="1171" y="560.5" width="28.7" height="7.5" fill="#30a832" stroke="#000" stroke-width="1.1"/>
<line x1="1171" y1="563.5" x2="1199.7" y2="563.5" stroke="#111" stroke-width="2.2"/>
<g fill="#050505"><circle cx="900.09" cy="548.31" r="2.62"/><circle cx="876.58" cy="555.32" r="2.62"/><circle cx="886.33" cy="557.07" r="2.62"/><circle cx="898.34" cy="552.82" r="2.62"/><circle cx="903.34" cy="552.82" r="2.62"/><circle cx="907.35" cy="553.32" r="2.62"/><circle cx="916.85" cy="554.32" r="2.62"/><circle cx="915.6" cy="556.82" r="2.62"/><circle cx="927.86" cy="555.32" r="2.62"/><circle cx="927.11" cy="557.82" r="2.62"/><circle cx="894.34" cy="559.32" r="2.62"/><circle cx="900.09" cy="560.07" r="2.62"/><circle cx="890.08" cy="561.82" r="2.62"/><circle cx="908.6" cy="561.82" r="2.62"/><circle cx="910.1" cy="563.82" r="2.62"/><circle cx="920.6" cy="563.32" r="2.62"/><circle cx="922.61" cy="565.07" r="2.62"/><circle cx="900.09" cy="567.58" r="2.62"/><circle cx="874.32" cy="567.83" r="2.62"/><circle cx="881.33" cy="570.33" r="2.62"/><circle cx="915.1" cy="572.58" r="2.62"/><circle cx="913.85" cy="581.09" r="2.62"/><circle cx="881.83" cy="611.86" r="2.62"/><circle cx="1067.45" cy="553.32" r="2.62"/><circle cx="1030.68" cy="554.32" r="2.62"/><circle cx="1035.18" cy="555.07" r="2.62"/><circle cx="1040.18" cy="553.07" r="2.62"/><circle cx="1052.69" cy="552.82" r="2.62"/><circle cx="1056.44" cy="555.32" r="2.62"/><circle cx="1043.93" cy="557.57" r="2.62"/><circle cx="1022.67" cy="558.57" r="2.62"/><circle cx="1021.92" cy="560.57" r="2.62"/><circle cx="1034.68" cy="562.57" r="2.62"/><circle cx="1038.93" cy="562.57" r="2.62"/><circle cx="1025.17" cy="569.58" r="2.62"/><circle cx="1019.17" cy="571.08" r="2.62"/><circle cx="1037.68" cy="571.83" r="2.62"/><circle cx="1038.43" cy="573.33" r="2.62"/><circle cx="1058.19" cy="583.34" r="2.62"/><circle cx="1020.17" cy="595.09" r="2.62"/><circle cx="1030.93" cy="594.09" r="2.62"/><circle cx="1036.43" cy="594.34" r="2.62"/><circle cx="1038.18" cy="608.85" r="2.62"/><circle cx="1188.12" cy="551.57" r="2.62"/><circle cx="1208.14" cy="552.82" r="2.62"/><circle cx="1202.13" cy="555.57" r="2.62"/><circle cx="1204.63" cy="557.57" r="2.62"/><circle cx="1196.38" cy="558.57" r="2.62"/><circle cx="1208.14" cy="561.82" r="2.62"/><circle cx="1206.63" cy="563.82" r="2.62"/><circle cx="1159.1" cy="562.57" r="2.62"/><circle cx="1157.6" cy="567.08" r="2.62"/><circle cx="1167.11" cy="567.83" r="2.62"/><circle cx="1178.12" cy="575.83" r="2.62"/><circle cx="1208.89" cy="577.08" r="2.62"/><circle cx="1200.38" cy="579.83" r="2.62"/><circle cx="1198.38" cy="622.36" r="2.62"/><circle cx="1175.11" cy="563.82" r="2.62"/><circle cx="1180.12" cy="564.57" r="2.62"/><circle cx="1186.37" cy="564.57" r="2.62"/><circle cx="1192.63" cy="565.07" r="2.62"/><circle cx="1184.2" cy="757.3" r="2.62"/><circle cx="897.5" cy="557.5" r="2.62"/><circle cx="899.3" cy="561.2" r="2.62"/><circle cx="908" cy="564.2" r="2.62"/></g>
</g>
<g fill="#0ff"><rect x="384" y="818" width="1.2" height="1"/><rect x="387.6" y="818.2" width="1.2" height="1"/><rect x="391" y="818.2" width="1.4" height="1"/><rect x="393.8" y="818.4" width="1" height="1"/><rect x="389.6" y="824.8" width="1.6" height="1.1"/><rect x="1180.4" y="817.8" width="1.2" height="1"/><rect x="1183.6" y="817.6" width="1.2" height="1"/><path d="M1181.2 824.2l5.4 1.6v.9l-5.4-1.6z"/></g>
</svg>
</body>
</html>
